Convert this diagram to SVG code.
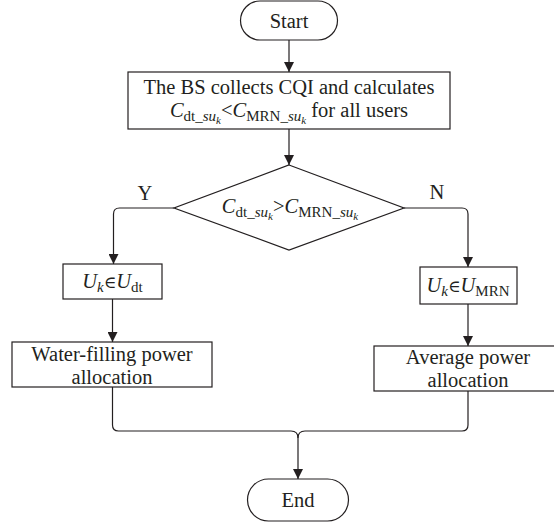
<svg xmlns="http://www.w3.org/2000/svg" width="554" height="525" viewBox="0 0 554 525">
<defs>
<marker id="arr" markerUnits="userSpaceOnUse" markerWidth="10" markerHeight="10" refX="10" refY="5" orient="auto">
<path d="M0,0 L10,5 L0,10 z" fill="#231f20"/>
</marker>
<style>
.shape{fill:#fff;stroke:#231f20;stroke-width:1.2}
.conn{fill:none;stroke:#231f20;stroke-width:1.2}
text{font-family:"Liberation Serif","Times New Roman",serif;font-size:20.5px;fill:#231f20}
.c{text-anchor:middle}
.i{font-style:italic}
.s{font-size:15px}
.ss{font-size:11px;font-style:italic}
.el{font-family:"DejaVu Serif",serif;font-size:17px}
</style>
</defs>
<rect width="554" height="525" fill="#fff"/>
<g id="connectors">
<path class="conn" d="M289,40 V72" marker-end="url(#arr)"/>
<path class="conn" d="M289,129 V165" marker-end="url(#arr)"/>
<path class="conn" d="M174,208 H119.5 Q113.5,208 113.5,214 V264" marker-end="url(#arr)"/>
<path class="conn" d="M404,208 H462 Q468,208 468,214 V267" marker-end="url(#arr)"/>
<path class="conn" d="M112.5,299 V342" marker-end="url(#arr)"/>
<path class="conn" d="M468,304 V346" marker-end="url(#arr)"/>
<path class="conn" d="M112.5,387 V425 Q112.5,431 118.5,431 H291 Q298,431 298,438"/>
<path class="conn" d="M468,391 V425 Q468,431 462,431 H305 Q298,431 298,438"/>
<path class="conn" d="M298,438 V479" marker-end="url(#arr)"/>
<text class="c" x="145" y="200">Y</text>
<text class="c" x="437" y="199">N</text>
</g>
<g id="start">
<rect class="shape" x="240.5" y="1" width="97" height="39" rx="19.5"/>
<text class="c" x="289" y="28">Start</text>
</g>
<g id="collect">
<rect class="shape" x="128" y="72" width="322" height="57"/>
<text class="c" x="289" y="93.5">The BS collects CQI and calculates<tspan x="289" dy="23" class="i">C</tspan><tspan class="s" dy="4">dt_</tspan><tspan class="s i">su</tspan><tspan class="ss" dy="3">k</tspan><tspan dy="-7">&lt;</tspan><tspan class="i">C</tspan><tspan class="s" dy="4">MRN_</tspan><tspan class="s i">su</tspan><tspan class="ss" dy="3">k</tspan><tspan dy="-7"> for all users</tspan></text>
</g>
<g id="decision">
<polygon class="shape" points="289,165 404,208 289,250 174,208"/>
<text class="c" x="290" y="213"><tspan class="i">C</tspan><tspan class="s" dy="4">dt_</tspan><tspan class="s i">su</tspan><tspan class="ss" dy="3">k</tspan><tspan dy="-7">&gt;</tspan><tspan class="i">C</tspan><tspan class="s" dy="4">MRN_</tspan><tspan class="s i">su</tspan><tspan class="ss" dy="3">k</tspan></text>
</g>
<g id="udt">
<rect class="shape" x="63" y="264" width="99" height="35"/>
<text class="c" x="112.5" y="288"><tspan class="i">U</tspan><tspan class="s i" dy="4">k</tspan><tspan class="el" dy="-4">∈</tspan><tspan class="i">U</tspan><tspan class="s" dy="4">dt</tspan></text>
</g>
<g id="umrn">
<rect class="shape" x="420" y="267" width="97" height="37"/>
<text class="c" x="468" y="292"><tspan class="i">U</tspan><tspan class="s i" dy="4">k</tspan><tspan class="el" dy="-4">∈</tspan><tspan class="i">U</tspan><tspan class="s" dy="4">MRN</tspan></text>
</g>
<g id="waterfilling">
<rect class="shape" x="12" y="342" width="200" height="45"/>
<text class="c" x="112" y="360.5">Water-filling power<tspan x="112" dy="23">allocation</tspan></text>
</g>
<g id="average">
<rect class="shape" x="374" y="346" width="190" height="45"/>
<text class="c" x="468" y="363.5">Average power<tspan x="468" dy="23">allocation</tspan></text>
</g>
<g id="end">
<rect class="shape" x="247.5" y="479" width="101" height="42" rx="21"/>
<text class="c" x="298" y="507">End</text>
</g>
</svg>
